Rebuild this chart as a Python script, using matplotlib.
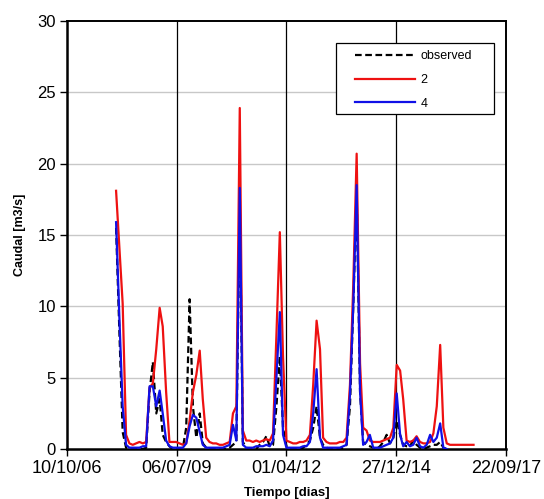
import datetime
import numpy
import pandas
from matplotlib import pyplot
from matplotlib.patches import Rectangle
import matplotlib.dates as mdates

# monthly series, starting Jan 2008
start_month = "2008-01-01"

caudal_2 = [18.1, 14.0, 10.2, 1.0, 0.4, 0.3, 0.4, 0.5, 0.4, 0.5,
			4.3, 4.6, 7.0, 9.9, 8.6, 4.0, 0.5, 0.5, 0.5, 0.4,
			0.3, 0.4, 2.0, 4.0, 5.2, 6.9, 3.5, 0.8, 0.5, 0.4,
			0.4, 0.3, 0.3, 0.4, 0.5, 2.5, 3.0, 23.9, 1.3, 0.6,
			0.6, 0.5, 0.6, 0.5, 0.6, 0.7, 0.6, 1.1, 8.0, 15.2,
			6.5, 0.6, 0.5, 0.4, 0.4, 0.5, 0.5, 0.6, 1.0, 4.5,
			9.0, 7.0, 0.8, 0.5, 0.4, 0.4, 0.4, 0.5, 0.5, 0.8,
			4.5, 11.5, 20.7, 6.0, 1.5, 1.3, 0.6, 0.5, 0.5, 0.5,
			0.6, 0.7, 0.8, 1.5, 5.9, 5.5, 3.5, 0.6, 0.5, 0.6,
			0.9, 0.5, 0.4, 0.4, 0.5, 1.1, 3.0, 7.3, 1.5, 0.4,
			0.3, 0.3, 0.3, 0.3, 0.3, 0.3, 0.3, 0.3]

caudal_4 = [15.9, 9.0, 3.0, 0.3, 0.1, 0.1, 0.1, 0.1, 0.2, 0.2,
			4.4, 4.4, 3.0, 4.1, 2.5, 0.6, 0.2, 0.1, 0.1, 0.1,
			0.1, 0.4, 1.6, 2.4, 2.2, 1.2, 0.3, 0.1, 0.1, 0.1,
			0.1, 0.1, 0.1, 0.2, 0.3, 1.7, 0.6, 18.3, 0.3, 0.1,
			0.1, 0.1, 0.2, 0.2, 0.2, 0.3, 0.2, 0.6, 5.0, 9.6,
			1.0, 0.1, 0.1, 0.1, 0.1, 0.1, 0.2, 0.2, 0.5, 2.5,
			5.6, 0.8, 0.1, 0.1, 0.1, 0.1, 0.1, 0.1, 0.2, 0.3,
			3.8, 10.0, 18.5, 4.0, 0.3, 0.5, 1.0, 0.1, 0.1, 0.1,
			0.2, 0.3, 0.4, 0.8, 3.9, 1.0, 0.2, 0.5, 0.2, 0.3,
			0.8, 0.2, 0.1, 0.3, 1.0, 0.5, 0.8, 1.8, 0.1, 0.0]

observed = [15.5, 8.0, 1.2, 0.1, 0.0, 0.0, 0.0, 0.0, 0.0, 0.1,
			4.0, 6.1, 2.5, 3.5, 1.0, 0.5, 0.2, 0.0, 0.0, 0.0,
			0.1, 1.5, 10.5, 3.0, 0.8, 2.5, 0.4, 0.1, 0.0, 0.0,
			0.0, 0.0, 0.0, 0.0, 0.1, 0.3, 0.5, 17.5, 0.5, 0.1,
			0.0, 0.0, 0.0, 0.3, 0.5, 0.9, 0.2, 0.3, 3.0, 6.5,
			1.5, 0.2, 0.0, 0.0, 0.0, 0.0, 0.1, 0.3, 0.6, 1.5,
			3.0, 0.8, 0.3, 0.1, 0.0, 0.0, 0.0, 0.0, 0.1, 0.3,
			3.0, 10.0, 18.0, 4.0, 0.5, 0.3, 0.2, 0.1, 0.0, 0.2,
			0.5, 1.0, 0.4, 0.8, 2.0, 1.0, 0.3, 0.2, 0.2, 0.6,
			0.3, 0.1, 0.0, 0.1, 0.2, 0.3, 0.3, 0.5, 0.1, 0.0]

x_start = datetime.date(2006, 10, 10)
x_step_days = 1000
n_x_ticks = 5
y_ticks = [0, 5, 10, 15, 20, 25, 30]


def month_index(n):
	return pandas.date_range(start_month, periods = n, freq = "MS")


pyplot.rcParams["font.family"] = ["Liberation Sans", "DejaVu Sans"]

fig = pyplot.figure(figsize = (5.44, 4.99), dpi = 100)
ax = fig.add_axes([0.123, 0.100, 0.807, 0.858])

x_ticks = [x_start + datetime.timedelta(days = x_step_days * i)
			for i in range(n_x_ticks)]

ax.plot(month_index(len(observed)), observed, ls = (0, (3, 1.6)), lw = 1.6,
		color = "black", label = "observed", zorder = 2)
ax.plot(month_index(len(caudal_2)), caudal_2, lw = 1.6, color = "#ee1111",
		label = "2", zorder = 3)
ax.plot(month_index(len(caudal_4)), caudal_4, lw = 1.6, color = "#1010e6",
		label = "4", zorder = 4)

ax.set_xlim(x_ticks[0], x_ticks[-1])
ax.set_ylim(0, 30)
ax.set_xticks(x_ticks)
ax.xaxis.set_major_formatter(mdates.DateFormatter("%d/%m/%y"))
ax.set_yticks(y_ticks)

# grid: grey horizontals, black verticals
for y in y_ticks[1:-1]:
	ax.axhline(y, color = "#c8c8c8", lw = 1, zorder = 1)
for xt in x_ticks[1:-1]:
	ax.axvline(xt, color = "black", lw = 0.9, zorder = 1)

for side in ["left", "bottom"]:
	ax.spines[side].set_linewidth(1.8)
for side in ["top", "right"]:
	ax.spines[side].set_linewidth(1.4)

ax.tick_params(axis = "both", direction = "out", length = 5, width = 1,
				colors = "black")
ax.tick_params(axis = "y", pad = 3, labelsize = 12)
ax.tick_params(axis = "x", pad = 3, labelsize = 13)

ax.set_xlabel("Tiempo [dias]", fontsize = 9.5, fontweight = "bold",
				labelpad = 7)
ax.set_ylabel("Caudal [m3/s]", fontsize = 9, fontweight = "bold",
				labelpad = 8)

# legend frame drawn separately so the box can be wider than the entries
ax.add_patch(Rectangle((0.613, 0.783), 0.360, 0.166, transform = ax.transAxes,
						facecolor = "white", edgecolor = "black", lw = 0.9,
						zorder = 9))
leg = ax.legend(loc = "upper left", bbox_to_anchor = (0.656, 0.931),
				fontsize = 9, frameon = False, handlelength = 4.8,
				handletextpad = 0.45, labelspacing = 0.93,
				borderpad = 0, borderaxespad = 0)
leg.set_zorder(10)

fig.savefig("out.png", dpi = 100)
